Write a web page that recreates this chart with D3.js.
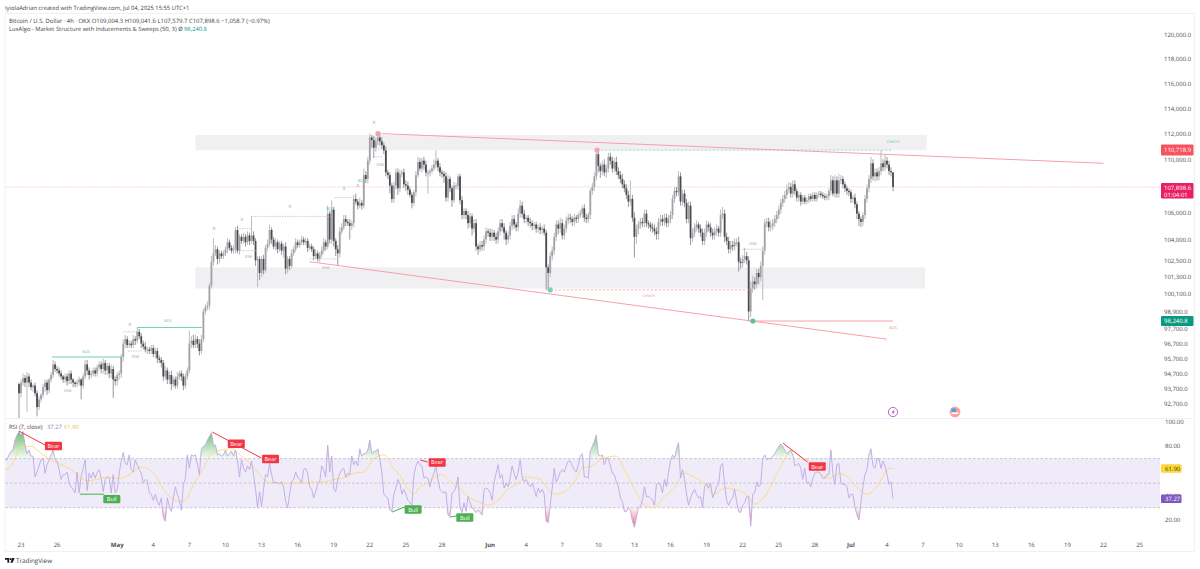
<!DOCTYPE html>
<html>
<head>
<meta charset="utf-8">
<script src="https://cdn.jsdelivr.net/npm/d3@7"></script>
<style>
  body { margin: 0; background: #fff; }
  svg { display: block; }
  text { font-family: "Open Sans", "DejaVu Sans", sans-serif; text-rendering: geometricPrecision; }
</style>
</head>
<body>
<div id="chart"></div>
<script>
// BTC/USD 4h candles, in thousands of USD
const closes = [
  93.4,94.1,94.4,94.1,94.5,94.1,93.8,93.9,93.4,92.5,
  93.0,93.3,93.8,94.1,93.6,94.3,94.6,95.3,95.0,94.9,
  94.7,94.5,94.3,94.5,94.2,94.7,94.3,94.1,94.0,94.1,
  94.3,93.9,94.5,95.3,94.9,94.6,94.7,94.9,94.7,95.1,
  95.3,95.0,95.4,94.9,95.2,94.7,95.0,94.3,94.2,94.6,
  94.7,95.8,96.7,97.0,96.6,96.7,96.6,97.0,96.9,97.5,
  97.2,96.7,96.5,96.3,96.3,96.2,96.4,96.0,96.2,95.7,
  95.6,95.4,94.5,94.9,94.3,94.6,94.0,94.3,93.9,94.5,
  94.7,94.5,93.9,94.5,94.9,96.7,96.9,96.6,97.0,96.7,
  96.2,97.0,98.9,99.2,99.3,100.7,102.4,103.0,103.3,102.6,
  103.0,102.8,103.0,103.3,103.8,103.4,103.2,103.3,104.7,103.2,
  104.2,103.9,104.2,103.8,104.3,103.9,104.3,103.9,102.5,102.6,
  101.6,102.6,101.8,103.4,103.7,104.7,104.0,103.5,103.8,103.3,
  103.7,103.2,103.5,101.9,102.6,102.1,103.0,103.3,103.8,103.6,
  103.8,104.0,103.8,103.9,103.4,103.5,103.3,102.8,103.0,102.6,
  102.9,103.2,103.8,103.5,105.9,104.0,106.2,103.9,103.3,103.0,
  104.6,104.9,105.5,105.3,105.2,105.0,105.2,107.0,106.8,106.5,
  106.7,106.5,108.8,108.5,109.9,111.7,111.5,110.9,111.4,111.7,
  111.4,111.1,110.7,109.0,108.8,108.0,107.0,108.0,109.0,107.8,
  108.9,109.0,108.1,108.0,107.7,107.3,106.7,107.5,108.8,109.8,
  109.3,109.9,109.6,109.0,109.0,109.1,109.3,109.6,109.9,109.4,
  109.0,108.9,108.7,107.1,108.5,107.8,106.9,108.0,108.0,108.7,
  106.9,105.8,106.1,105.8,105.2,105.7,104.8,105.2,103.5,103.3,
  103.6,103.5,104.0,104.6,104.5,104.2,104.5,104.2,104.0,104.6,
  105.2,104.9,104.5,104.0,104.3,105.0,105.5,105.1,104.9,105.9,
  106.5,105.9,105.5,105.6,105.3,105.2,105.0,105.1,104.8,104.9,
  104.7,104.8,104.5,102.0,101.6,102.8,103.2,104.2,105.1,104.8,
  105.2,104.3,104.8,105.4,105.6,105.5,105.3,105.6,105.5,105.8,
  105.9,106.3,105.6,105.5,105.8,107.6,107.9,108.7,110.4,109.5,
  109.1,109.6,109.0,109.3,110.2,109.9,109.3,109.8,109.1,108.8,
  108.5,108.1,107.8,107.3,106.8,107.0,105.6,104.2,104.8,105.1,
  105.3,105.2,105.9,105.2,105.1,104.9,104.8,104.6,104.4,105.3,
  105.5,105.3,105.6,105.2,105.5,105.8,107.0,107.6,107.5,108.7,
  106.8,107.4,106.7,105.5,106.5,104.1,104.5,104.9,105.1,104.8,
  104.5,103.9,104.5,105.1,104.9,104.5,104.3,104.6,104.8,104.5,
  105.8,105.9,104.2,103.9,103.3,103.6,103.5,103.8,103.8,102.4,
  102.3,102.6,102.8,102.5,98.9,100.5,101.0,100.8,101.6,101.3,
  102.1,103.2,105.2,105.3,104.9,105.0,105.2,105.5,105.8,106.2,
  106.7,107.0,107.3,107.7,107.9,107.4,108.1,107.6,107.1,107.3,
  106.8,107.1,106.8,106.9,107.2,107.0,107.3,107.0,107.3,107.4,
  107.3,107.2,107.1,107.2,107.6,108.4,107.4,108.4,107.4,108.4,
  108.5,108.1,107.8,107.6,107.5,107.0,107.1,106.6,105.9,105.5,
  105.3,105.8,107.0,107.8,108.5,109.7,108.7,109.0,108.7,109.1,
  109.7,109.4,109.9,109.6,109.1,109.0,107.9
];
// wick lengths above / below the candle body, in hundreds of USD
const upperWicks = [
  1,2,3,2,3,2,2,1,2,2, 2,1,2,2,2,1,2,3,2,2, 2,2,1,2,2,2,2,1,1,2,
  2,1,2,3,3,2,2,2,2,2, 2,2,3,2,2,2,3,2,2,2, 2,2,3,3,2,2,2,3,2,3,
  2,2,2,3,2,2,2,2,2,2, 2,2,2,3,2,2,3,2,2,3, 2,2,2,2,2,9,3,4,3,2,
  3,3,2,2,3,2,4,11,3,2, 2,2,2,2,3,2,2,3,2,3, 2,2,3,2,3,2,14,3,2,2,
  2,2,3,2,3,4,2,2,3,2, 2,2,2,3,2,2,3,2,3,2, 2,3,2,2,2,2,2,2,3,2,
  2,3,3,2,6,2,7,2,2,3, 3,3,3,3,2,3,2,3,4,2, 4,2,5,3,3,3,2,3,3,3,
  4,3,2,3,2,2,2,3,3,3, 3,2,3,3,3,2,2,2,3,4, 3,2,3,3,2,2,3,4,8,2,
  3,2,2,3,3,2,2,3,2,2, 2,3,2,2,3,3,2,3,3,2, 3,3,3,3,2,3,3,2,3,3,
  3,3,3,2,3,3,3,3,2,4, 4,3,3,2,2,3,2,2,2,2, 3,2,3,2,2,3,3,3,3,3,
  4,3,3,3,3,3,2,3,2,2, 3,2,3,3,2,2,3,3,3,4, 2,3,4,3,3,3,3,3,4,3,
  3,4,3,3,3,14,3,4,3,3, 3,3,3,3,2,2,3,3,3,3, 3,3,3,3,3,3,3,3,3,4,
  3,3,3,3,3,3,3,3,3,2, 3,3,3,3,2,3,3,3,3,2, 4,5,3,3,3,3,3,3,3,4,
  3,3,6,3,3,5,4,3,3,3, 3,3,3,3,3,4,3,3,3,3, 3,3,3,4,4,3,3,3,2,2,
  2,2,2,2,2,2,2,2,2,2, 2,2,2,2,2,4,3,4,3,5, 3,2,2,2,2,2,2,3,2,2,
  2,2,3,3,3,5,3,3,3,3, 10,3,5,3,3,3,0.4
];
const lowerWicks = [
  18,3,2,3,19,3,2,3,2,6, 2,2,2,3,3,2,2,2,2,2, 2,2,2,2,3,2,3,3,2,2,
  2,9,2,2,3,3,2,2,2,2, 2,3,3,3,3,3,3,12,3,3, 3,3,3,3,2,2,2,2,3,2,
  2,3,2,2,3,2,2,2,3,3, 2,3,3,2,3,3,4,2,2,2, 2,3,3,2,2,2,3,2,2,3,
  3,2,2,2,2,3,2,3,2,4, 3,2,2,2,3,2,2,2,3,2, 3,2,2,3,2,3,2,3,4,19,
  5,3,3,2,2,2,3,2,3,3, 2,3,5,4,3,3,2,2,2,2, 2,2,2,2,3,2,2,3,2,2,
  2,2,2,3,2,3,3,4,5,9, 3,2,2,3,2,10,3,3,2,3, 2,3,2,3,3,3,6,8,3,3,
  3,3,3,3,3,6,3,3,3,5, 3,3,3,4,4,2,4,2,3,2, 2,3,4,3,16,3,2,2,3,3,
  3,3,5,3,3,3,5,2,3,3, 3,3,3,3,4,3,5,3,3,4, 2,3,3,3,3,3,3,3,3,3,
  3,3,5,4,3,3,3,3,3,3, 3,3,3,3,3,3,3,3,3,3, 3,3,2,16,12,3,3,3,3,4,
  3,3,3,3,3,3,3,3,3,3, 2,3,3,3,3,3,3,3,3,5, 5,3,3,4,3,3,3,3,3,3,
  3,3,3,3,4,3,3,15,5,4, 3,3,3,3,3,3,3,3,4,4, 3,3,3,3,3,3,3,3,3,3,
  3,3,3,3,3,5,3,3,3,3, 3,3,3,3,3,3,3,3,3,3, 3,3,4,3,3,3,3,3,3,7,
  4,3,3,3,7,4,3,4,3,5, 3,24,3,3,3,3,3,3,3,3, 3,3,3,3,3,3,3,3,3,3,
  3,2,2,2,2,2,2,2,2,2, 2,2,2,2,3,3,2,3,3,3, 3,3,3,3,3,3,3,3,4,5,
  4,3,3,3,3,3,3,4,3,3, 3,3,3,3,3,3,3.2
];
// RSI(7) per 4h candle
const rsiValues = [
  69,69,73,76,77,85,89,92,89,92,81,74,77,72,72,55,59,64,69,70,58,65,69,73,77,69,68,61,53,57,
  57,59,50,47,45,42,59,42,55,62,69,44,58,54,59,54,59,61,54,43,53,55,54,42,57,42,45,58,68,75,
  66,65,73,61,59,69,65,61,58,50,53,52,42,41,36,41,35,32,38,22,19,38,31,27,38,47,41,36,28,49,
  54,73,62,73,72,73,65,57,78,80,81,85,88,91,81,81,73,74,72,73,77,72,74,76,72,77,68,55,69,62,
  59,64,61,68,57,45,30,43,31,45,57,55,66,57,50,51,50,50,51,47,35,30,41,51,53,59,55,53,50,61,
  62,58,47,45,38,43,49,51,64,61,55,81,59,72,45,43,53,58,61,62,55,58,57,72,65,68,64,78,72,74,
  74,77,85,74,76,76,78,69,59,41,39,38,28,27,41,46,53,
  50,41,45,41,36,34,32,57,64,68,65,64,54,55,54,47,54,58,64,53,45,43,42,43,24,23,42,43,47,55,
  30,26,34,27,39,34,30,28,26,28,26,24,45,46,45,42,36,51,58,65,54,57,46,50,47,54,64,58,53,59,
  69,55,51,53,49,47,50,45,39,46,42,45,41,19,18,32,46,62,51,54,59,61,59,64,68,68,64,61,59,65,
  72,74,55,55,54,76,80,84,89,73,72,73,65,70,70,64,58,57,51,47,38,35,27,27,30,28,19,14,22,30,
  31,36,47,39,39,38,36,32,49,50,49,42,53,47,59,68,73,70,78,83,54,61,53,41,32,38,42,45,41,38,
  39,30,47,50,46,50,38,42,47,49,64,66,49,36,32,36,38,45,35,27,26,32,34,39,39,15,41,42,51,47,
  49,70,73,69,70,70,72,74,77,80,82,80,77,74,76,77,73,64,65,66,
  62,53,62,50,51,47,54,58,59,59,57,54,54,57,57,77,58,49,65,66,50,49,49,47,38,41,41,31,24,20,
  34,47,57,61,73,78,64,62,70,70,62,68,64,57,49,51,37.27
];
// RSI moving average, read at these candle indices of rsiValues
const rsiMaIndex = [0,3,6,9,13,16,19,23,28,33,38,41,46,51,55,58,63,68,71,76,79,83,88,90,94,98,103,108,113,118,123,128,131,136,141,148,154,159,164,169,174,179,184,189,194,198,201,204,207,212,214,218,223,227,231,236,241,246,251,256,260,267,271,274,279,284,288,293,298,305,309,314,319,324,329,334,339,344,349,354,359,364,371,374,379,384,389,393,397,401,406,411,416,421,426,430,435,441,443];
const rsiMaValues = [61,64,74,80,80,77,73,69,65,61,54,52,53,55,54,54,58,63,62,54,45,38,35,36,49,59,74,77,78,72,65,55,51,50,50,50,51,51,53,54,58,59,70,73,62,54,45,41,47,51,54,57,50,45,39,35,32,36,45,50,55,53,45,41,43,51,62,64,70,72,61,45,32,30,39,47,58,55,49,41,46,45,39,33,39,54,70,76,71,68,59,54,58,54,45,41,47,62,61.9];

const priceTicks = [120,118,116,114,112,110,106,104,102.5,101.3,100.1,98.9,97.7,96.7,95.7,94.7,93.7,92.7];
const rsiTicks = [100,80,40,20];
// time axis: days counted from 23 Apr 2025
const dayTicks = [0,3,8,11,14,17,20,23,26,29,32,35,39,42,45,48,51,54,57,60,63,66,69,72,75,78,81,84,87,90,93];
const dayLabels = ["23","26","May","4","7","10","13","16","19","22","25","28","Jun","4","7","10","13","16","19","22","25","28","Jul","4","7","10","13","16","19","22","25"];

const zones = [
  { from: 14.5, to: 75.3, hi: 111.9, lo: 110.7 },
  { from: 14.5, to: 75.15, hi: 102.0, lo: 100.5 }
];
const trendLines = [
  { d0: 30.0, p0: 112.0, d1: 90.0, p1: 109.7 },
  { d0: 24.0, p0: 102.4, d1: 72.0, p1: 97.0 },
  { d0: 61.0, p0: 98.24, d1: 72.5, p1: 98.24 }
];
const bosLines = [[2.6,8.4,95.8],[9.65,15.05,97.8]];
const grayLines = [[3.5,4.25,94.1],[8.5,9.65,97.5],[8.9,10.15,96.2],[17.95,19.2,104.8],[18.2,19.6,103.2],[19.2,25.7,105.7],[26.1,27.6,107.1],[24.0,26.3,102.6],[29.25,30.1,110.2],[60.0,61.7,103.3]];
const chochGreen = [47.9,72.5,110.72];
const chochRed = [44.05,60.5,100.4];
const swingDots = [[29.68,112.0,"#f4a3aa"],[47.9,110.72,"#f4a3aa"],[44.0,100.4,"#7fcfb8"],[60.85,98.24,"#5fbfa5"]];
const smallLabels = [
  ["BOS",5.4,96.2,"#5cc4a8"],["BOS",12.2,98.3,"#5cc4a8"],["BOS",28.3,108.4,"#5cc4a8"],["BOS",25.7,106.3,"#5cc4a8"],
  ["IDM",3.9,93.6,"#9a9a9e"],["IDM",9.5,95.8,"#9a9a9e"],["IDM",18.9,102.8,"#9a9a9e"],["IDM",29.85,109.6,"#9a9a9e"],["IDM",25.35,102.0,"#9a9a9e"],["IDM",60.85,103.7,"#9a9a9e"],
  ["CHoCH",72.5,111.4,"#5cc4a8"],["CHoCH",52.2,100.0,"#ef8a92"],["BOS",72.5,97.8,"#ef8a92"],
  ["X",9.05,98.0,"#8a8a8e"],["X",16.05,104.8,"#8a8a8e"],["X",18.35,105.5,"#8a8a8e"],["X",22.35,106.4,"#8a8a8e"],["X",29.35,112.9,"#8a8a8e"],["X",26.85,107.8,"#8a8a8e"],["X",28.0,108.0,"#8a8a8e"]
];
const divLines = [
  { col: "#f23645", pts: [[-0.17,92.4],[2.0,81]] },
  { col: "#f23645", pts: [[15.9,91.6],[20.0,70.4]] },
  { col: "#f23645", pts: [[33.2,68.8],[33.8,67.2]] },
  { col: "#f23645", pts: [[63.35,82.6],[65.4,67.2]] },
  { col: "#4caf50", pts: [[4.9,41],[6.9,41]] },
  { col: "#4caf50", pts: [[30.85,26.5],[31.9,30.6]] },
  { col: "#4caf50", pts: [[35.65,22.4],[36.25,23.3]] }
];
const divLabels = [["Bear",2.7,80.2],["Bear",17.9,82],["Bear",20.75,69.6],["Bear",34.6,66.8],["Bear",66.2,63.5],["Bull",7.55,37],["Bull",32.6,28.5],["Bull",36.9,22]];

const width = 1200, height = 569;
const svg = d3.select("#chart").append("svg").attr("width", width).attr("height", height);
const defs = svg.append("defs");

const x = d3.scaleLinear().domain([0, 72]).range([21, 887]);
const y = d3.scaleLog().domain([92.7, 120]).range([404, 35]);
const yRsi = d3.scaleLinear().domain([20, 100]).range([520, 421.7]);
const fmtPrice = d3.format(",.1f");

// last candle opens at 12:00 on 4 Jul, i.e. day 72.5; each candle is 1/6 day
const candleDay = (i, n) => 72.5 - (n - 1 - i) / 6;

defs.append("clipPath").attr("id", "mainClip").append("rect").attr("x", 6).attr("y", 14).attr("width", 1154).attr("height", 404);

// panes
const frame = "#f0f1f5";
svg.append("path").attr("fill", "none").attr("stroke", frame).attr("d", "M5,13.5H1194.5V551.5H5V13.5M5,418.5H1194.5");

// zones
svg.append("g").selectAll("rect").data(zones).join("rect")
  .attr("x", d => x(d.from)).attr("width", d => x(d.to) - x(d.from))
  .attr("y", d => y(d.hi)).attr("height", d => y(d.lo) - y(d.hi))
  .attr("fill", "#f0f0f3");

// last price line
svg.append("line").attr("x1", 6).attr("x2", 1160).attr("y1", y(107.9)).attr("y2", y(107.9))
  .attr("stroke", "#f6a8bf").attr("stroke-width", 0.7).attr("stroke-dasharray", "1.2 1.2");

// candles
const candles = closes.map((c, i) => {
  const o = i ? closes[i - 1] : 94.0;
  return { day: candleDay(i, closes.length), o, c,
    h: Math.max(o, c) + upperWicks[i] / 10, l: Math.min(o, c) - lowerWicks[i] / 10 };
});
const main = svg.append("g").attr("clip-path", "url(#mainClip)");
main.append("g").selectAll("line").data(candles).join("line")
  .attr("x1", d => x(d.day)).attr("x2", d => x(d.day))
  .attr("y1", d => y(d.h)).attr("y2", d => y(d.l))
  .attr("stroke", d => d.c >= d.o ? "#bcbcc0" : "#98989c").attr("stroke-width", 1);
main.append("g").selectAll("rect").data(candles).join("rect")
  .attr("x", d => x(d.day) - 0.9).attr("width", 1.8)
  .attr("y", d => y(Math.max(d.o, d.c)))
  .attr("height", d => Math.max(1.2, Math.abs(y(d.o) - y(d.c))))
  .attr("fill", d => d.c >= d.o ? "#a2a2a6" : "#4a4a50");

// market structure annotations
svg.append("g").selectAll("line").data(grayLines).join("line")
  .attr("x1", d => x(d[0])).attr("x2", d => x(d[1])).attr("y1", d => y(d[2])).attr("y2", d => y(d[2]))
  .attr("stroke", "#b8b8bc").attr("stroke-width", 0.7).attr("stroke-dasharray", "1.5 1");
svg.append("g").selectAll("line").data(bosLines).join("line")
  .attr("x1", d => x(d[0])).attr("x2", d => x(d[1])).attr("y1", d => y(d[2])).attr("y2", d => y(d[2]))
  .attr("stroke", "#6fcfb5").attr("stroke-width", 1);
svg.append("line").attr("x1", x(chochGreen[0])).attr("x2", x(chochGreen[1]))
  .attr("y1", y(chochGreen[2])).attr("y2", y(chochGreen[2]))
  .attr("stroke", "#8adcc6").attr("stroke-width", 1).attr("stroke-dasharray", "2 2");
svg.append("line").attr("x1", x(chochRed[0])).attr("x2", x(chochRed[1]))
  .attr("y1", y(chochRed[2])).attr("y2", y(chochRed[2]))
  .attr("stroke", "#f7a9b0").attr("stroke-width", 1).attr("stroke-dasharray", "2 2");
svg.append("g").selectAll("line").data(trendLines).join("line")
  .attr("x1", d => x(d.d0)).attr("y1", d => y(d.p0)).attr("x2", d => x(d.d1)).attr("y2", d => y(d.p1))
  .attr("stroke", "#f7a0a8").attr("stroke-width", 1);
svg.append("g").selectAll("circle").data(swingDots).join("circle")
  .attr("cx", d => x(d[0])).attr("cy", d => y(d[1])).attr("r", 2.6).attr("fill", d => d[2]);
svg.append("g").selectAll("text").data(smallLabels).join("text")
  .attr("x", d => x(d[1])).attr("y", d => y(d[2]) + 1.5).attr("text-anchor", "middle")
  .attr("font-size", d => d[0] === "X" ? 4.5 : 3.8).attr("fill", d => d[3]).text(d => d[0]);

// price axis
svg.append("g").selectAll("text").data(priceTicks).join("text")
  .attr("x", 1164).attr("y", d => y(d) + 2.2).attr("font-size", 6).attr("fill", "#4a4a50")
  .text(d => fmtPrice(d * 1000));

function axisTag(top, h, col, lines) {
  svg.append("rect").attr("x", 1161).attr("y", top).attr("width", 32.5).attr("height", h).attr("rx", 1).attr("fill", col);
  lines.forEach((t, i) => svg.append("text").attr("x", 1164).attr("y", top + 7.2 + i * 7.2)
    .attr("font-size", 6).attr("fill", "#fff").text(t));
}
axisTag(y(110.72) - 5.5, 11, "#f7525f", ["110,718.9"]);
axisTag(183, 15.5, "#e91e63", ["107,898.6", "01:04:01"]);
axisTag(y(98.24) - 5, 10, "#089981", ["98,240.8"]);

// RSI pane
const rsiPoints = rsiValues.map((v, i) => ({ day: candleDay(i, rsiValues.length), v }));
svg.append("rect").attr("x", 5.5).attr("width", 1154.5).attr("y", yRsi(70)).attr("height", yRsi(30) - yRsi(70)).attr("fill", "#efebf8");
svg.append("g").selectAll("line").data([70, 50, 30]).join("line")
  .attr("x1", 5.5).attr("x2", 1160).attr("y1", d => yRsi(d)).attr("y2", d => yRsi(d))
  .attr("stroke", "#b5b1bd").attr("stroke-width", 0.7).attr("stroke-dasharray", "2.5 2");

function gradient(id, v0, c0, o0, v1, o1) {
  const g = defs.append("linearGradient").attr("id", id).attr("gradientUnits", "userSpaceOnUse")
    .attr("x1", 0).attr("x2", 0).attr("y1", yRsi(v0)).attr("y2", yRsi(v1));
  g.append("stop").attr("offset", 0).attr("stop-color", c0).attr("stop-opacity", o0);
  g.append("stop").attr("offset", 1).attr("stop-color", c0).attr("stop-opacity", o1);
}
gradient("obFill", 90, "#4caf50", 0.75, 70, 0.05);
gradient("osFill", 15, "#f23645", 0.7, 30, 0.05);
svg.append("path").attr("fill", "url(#obFill)")
  .attr("d", d3.area().x(d => x(d.day)).y0(yRsi(70)).y1(d => yRsi(Math.max(70, d.v)))(rsiPoints));
svg.append("path").attr("fill", "url(#osFill)")
  .attr("d", d3.area().x(d => x(d.day)).y0(yRsi(30)).y1(d => yRsi(Math.min(30, d.v)))(rsiPoints));

const rsiMa = rsiMaIndex.map((k, i) => [candleDay(k, rsiValues.length), rsiMaValues[i]]);
svg.append("path").attr("fill", "none").attr("stroke", "#fcdc85").attr("stroke-width", 1)
  .attr("d", d3.line().x(d => x(d[0])).y(d => yRsi(d[1])).curve(d3.curveMonotoneX)(rsiMa));
svg.append("path").attr("fill", "none").attr("stroke", "#bda9e4").attr("stroke-width", 0.9)
  .attr("d", d3.line().x(d => x(d.day)).y(d => yRsi(d.v))(rsiPoints));

svg.append("g").selectAll("path").data(divLines).join("path")
  .attr("fill", "none").attr("stroke", d => d.col).attr("stroke-width", 1)
  .attr("d", d => d3.line().x(p => x(p[0])).y(p => yRsi(p[1]))(d.pts));
const tag = svg.append("g").selectAll("g").data(divLabels).join("g")
  .attr("transform", d => `translate(${x(d[1])},${yRsi(d[2])})`);
tag.append("rect").attr("x", -8.5).attr("y", -4.2).attr("width", 17).attr("height", 8.4).attr("rx", 1)
  .attr("fill", d => d[0] === "Bear" ? "#f23645" : "#4caf50");
tag.append("text").attr("y", 2).attr("text-anchor", "middle").attr("font-size", 5.6).attr("fill", "#fff").text(d => d[0]);

// RSI axis
svg.append("g").selectAll("text").data(rsiTicks).join("text")
  .attr("x", 1165).attr("y", d => yRsi(d) + 2.2).attr("font-size", 6).attr("fill", "#4a4a50")
  .text(d => d3.format(".2f")(d));
svg.append("rect").attr("x", 1161).attr("y", yRsi(61.9) - 4.2).attr("width", 20.5).attr("height", 8.4).attr("rx", 1).attr("fill", "#fdd835");
svg.append("text").attr("x", 1165).attr("y", yRsi(61.9) + 2.2).attr("font-size", 6).attr("fill", "#3a3a30").text("61.90");
svg.append("rect").attr("x", 1161).attr("y", yRsi(37.27) - 4.2).attr("width", 20.5).attr("height", 8.4).attr("rx", 1).attr("fill", "#7e57c2");
svg.append("text").attr("x", 1165).attr("y", yRsi(37.27) + 2.2).attr("font-size", 6).attr("fill", "#fff").text("37.27");

// time axis
svg.append("g").selectAll("text").data(dayTicks).join("text")
  .attr("x", d => x(d)).attr("y", 547).attr("text-anchor", "middle").attr("font-size", 6)
  .attr("font-weight", (d, i) => /[A-Z]/.test(dayLabels[i]) ? 700 : 400)
  .attr("fill", "#4a4a50").text((d, i) => dayLabels[i]);

// event icons
svg.append("circle").attr("cx", 893).attr("cy", 412).attr("r", 4.6).attr("fill", "#fff").attr("stroke", "#ba68c8").attr("stroke-width", 1);
svg.append("path").attr("d", "M894.5,408.8L891.3,412.6H893L891.9,415.2L895,411.3H893.3Z").attr("fill", "#ba68c8");
svg.append("circle").attr("cx", 955).attr("cy", 412).attr("r", 5.4).attr("fill", "#f9a3a3");
svg.append("rect").attr("x", 951.5).attr("y", 408.5).attr("width", 4.5).attr("height", 3.5).attr("fill", "#5b9ae6");
svg.append("rect").attr("x", 951.5).attr("y", 412.5).attr("width", 7).attr("height", 1.5).attr("fill", "#fff");

// header text
function label(t, tx, ty, size, col) {
  return svg.append("text").attr("x", tx).attr("y", ty).attr("font-size", size).attr("fill", col).text(t);
}
label("IyiolaAdrian created with TradingView.com, Jul 04, 2025 15:55 UTC+1", 5, 9.5, 5.8, "#3d3d42");
label("Bitcoin / U.S. Dollar · 4h · OKX  O109,004.3  H109,041.6  L107,579.7  C107,898.6  −1,058.7 (−0.97%)", 9, 22.5, 5.95, "#3d3d42");
label("LuxAlgo - Market Structure with Inducements & Sweeps (50, 3)  Ø", 9, 31, 5.8, "#3d3d42");
label("98,240.8", 184, 31, 5.8, "#089981");
label("RSI (7, close)", 9, 428.5, 5.8, "#3d3d42");
label("37.27", 47, 428.5, 5.8, "#8e79c9");
label("61.90", 64, 428.5, 5.8, "#e8c65a");

// footer
svg.append("path").attr("fill", "#131722").attr("d", "M5,558H9.2V562.8H7.4V559.8H5ZM10.6,558A1,1 0 1 1 10.6,560A1,1 0 1 1 10.6,558M12.2,558H14.6L12.6,562.8H10.4Z");
label("TradingView", 16, 563, 6.3, "#3a3e48");
</script>
</body>
</html>
